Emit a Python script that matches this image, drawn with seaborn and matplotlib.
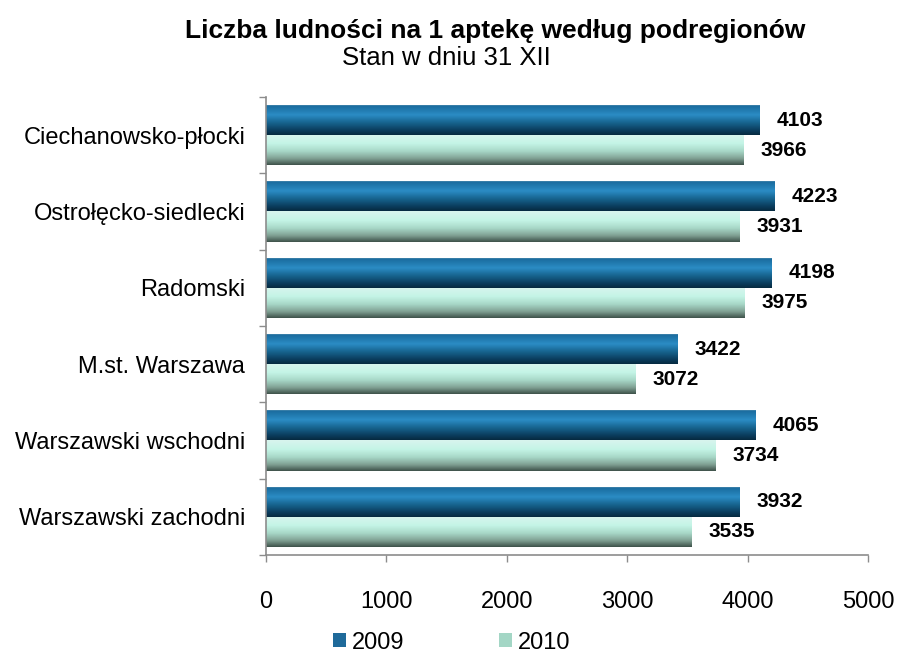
import numpy as np
import pandas as pd
import matplotlib
matplotlib.use('Agg')
import matplotlib.pyplot as plt
import seaborn as sns
from matplotlib.colors import LinearSegmentedColormap
from matplotlib.patches import Patch

# Data
regions = ['Ciechanowsko-płocki', 'Ostrołęcko-siedlecki', 'Radomski',
           'M.st. Warszawa', 'Warszawski wschodni', 'Warszawski zachodni']
values_2009 = [4103, 4223, 4198, 3422, 4065, 3932]
values_2010 = [3966, 3931, 3975, 3072, 3734, 3535]
years = ['2009', '2010']
x_ticks = [0, 1000, 2000, 3000, 4000, 5000]

df = pd.DataFrame({
    'region': regions * 2,
    'year': ['2009'] * len(regions) + ['2010'] * len(regions),
    'value': values_2009 + values_2010,
})

sns.set_style("white")
plt.rcParams['font.family'] = ['Liberation Sans', 'DejaVu Sans']
plt.rcParams['text.color'] = 'black'

fig = plt.figure(figsize=(8.97, 6.55), dpi=100)
ax = fig.add_axes([0.2966, 0.1527, 0.6711, 0.6993])

legend_colors = {'2009': '#1f6a9a', '2010': '#a3d6c5'}
sns.barplot(data=df, y='region', x='value', hue='year', order=regions,
            hue_order=years, palette=legend_colors, orient='h',
            width=0.79, dodge=True, ax=ax, legend=False, saturation=1)

# cylinder-like shading for each bar
grad_2009 = LinearSegmentedColormap.from_list('g09', [
    (0.0, '#9db8c8'), (0.05, '#1a6c9e'), (0.35, '#2b8cc4'),
    (0.6, '#17648f'), (0.85, '#0b3d5e'), (1.0, '#062a40')])
grad_2010 = LinearSegmentedColormap.from_list('g10', [
    (0.0, '#d8f5ee'), (0.3, '#c4f4e6'), (0.55, '#a8d8c8'),
    (0.8, '#7f9f92'), (1.0, '#3f534b')])

n = len(regions)
for i, patch in enumerate(ax.patches[:2 * n]):
    cmap = grad_2009 if i < n else grad_2010
    x0, y0 = patch.get_x(), patch.get_y()
    w, h = patch.get_width(), patch.get_height()
    img = ax.imshow(np.linspace(0, 1, 64).reshape(-1, 1), cmap=cmap,
                    extent=[x0, x0 + w, y0 + h, y0], aspect='auto',
                    interpolation='bilinear', zorder=2)
    img.set_clip_path(patch)
    patch.set_facecolor('none')
    patch.set_edgecolor('none')
    # value label
    ax.text(x0 + w + 140, y0 + h / 2, str(int(w)), va='center', ha='left',
            fontsize=15, fontweight='bold', color='black', zorder=3)

ax.set_xlim(0, 5000)
ax.set_ylim(n - 0.5, -0.5)
ax.set_xticks(x_ticks)
ax.set_xticklabels([str(t) for t in x_ticks], fontsize=17)
ax.set_xlabel('')
ax.set_ylabel('')
ax.tick_params(axis='x', direction='out', length=5, width=1, color='#8c8c8c',
               pad=21, bottom=True, labelcolor='black')
ax.set_yticks(np.arange(n))
ax.set_yticklabels(regions, fontsize=17)
ax.tick_params(axis='y', which='major', length=0, pad=15, labelcolor='black')
ax.set_yticks(np.arange(-0.5, n, 1), minor=True)
ax.tick_params(axis='y', which='minor', direction='out', length=5, width=1,
               color='#8c8c8c', left=True)

for side in ['top', 'right']:
    ax.spines[side].set_visible(False)
for side in ['left', 'bottom']:
    ax.spines[side].set_color('#8c8c8c')
    ax.spines[side].set_linewidth(1.2)

fig.text(0.552, 0.953, 'Liczba ludności na 1 aptekę według podregionów',
         ha='center', va='center', fontsize=19, fontweight='bold')
fig.text(0.498, 0.912, 'Stan w dniu 31 XII', ha='center', va='center', fontsize=18.5)

handles = [Patch(facecolor=legend_colors[y], edgecolor='none') for y in years]
fig.legend(handles, years, loc='center', bbox_to_anchor=(0.504, 0.019), ncol=2,
           frameon=False, fontsize=17, handlelength=0.55, handleheight=0.55,
           handletextpad=0.25, columnspacing=4.0, borderpad=0, borderaxespad=0)

fig.savefig('out.png', dpi=100)
